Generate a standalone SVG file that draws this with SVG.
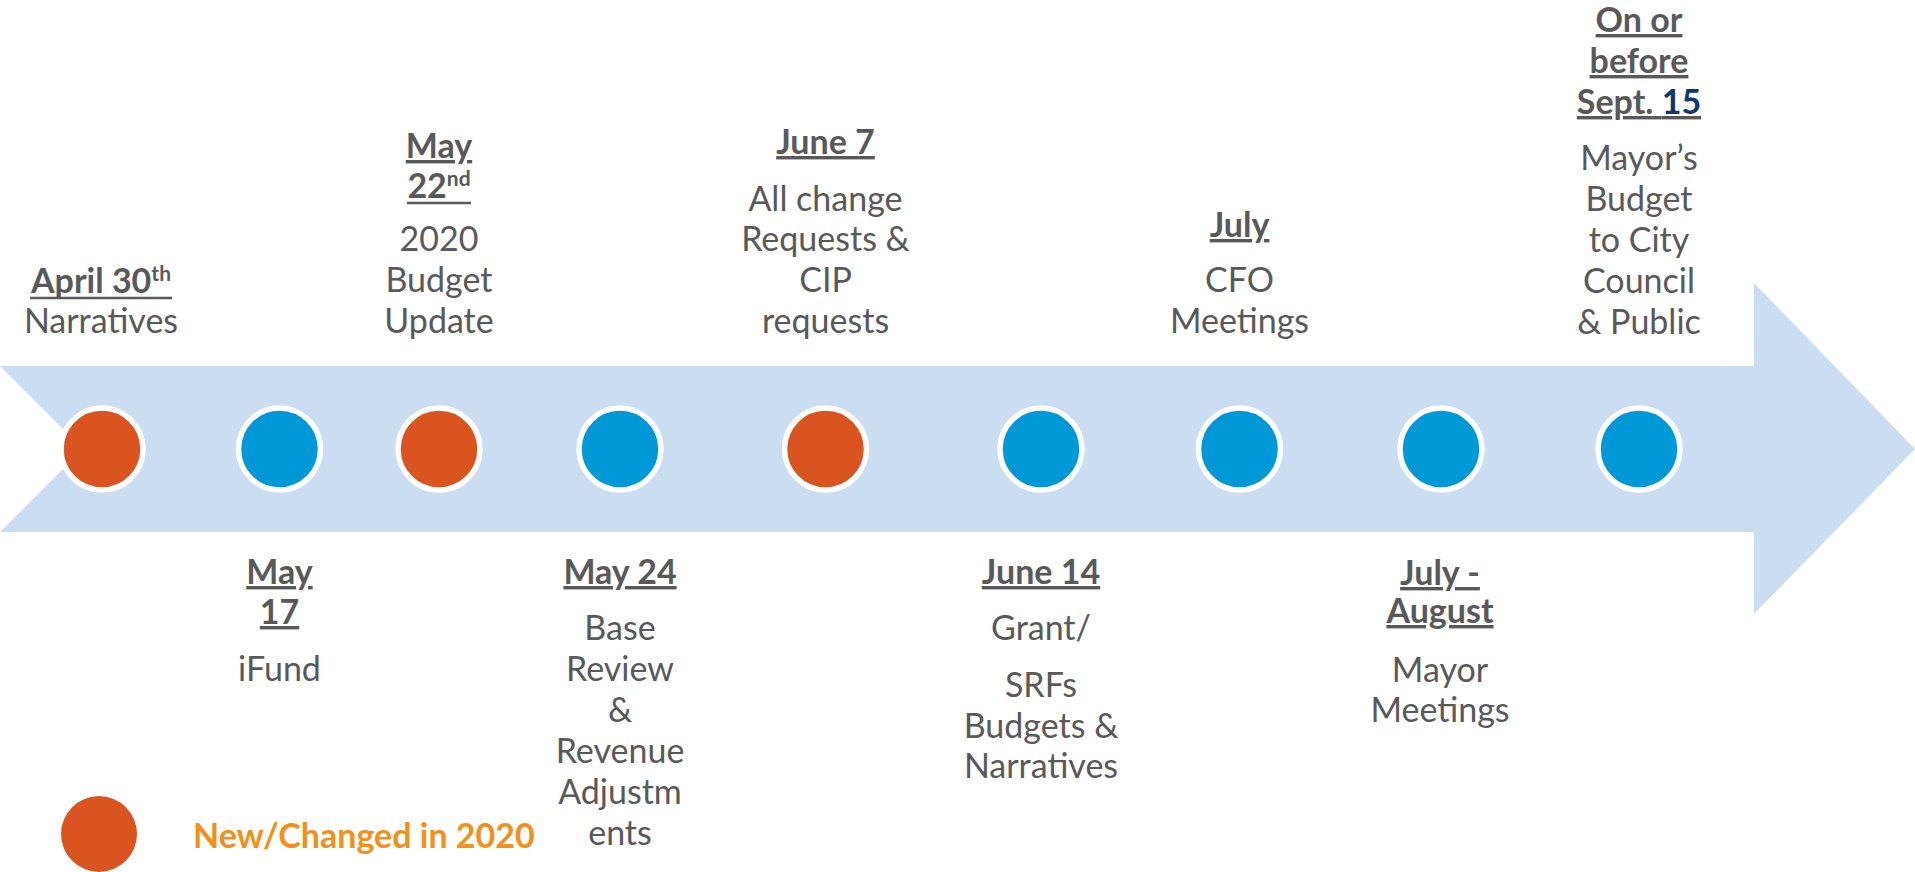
<svg xmlns="http://www.w3.org/2000/svg" width="1915" height="872" viewBox="0 0 1915 872">
<style>
.t{font-family:Lato,"Open Sans","Liberation Sans",sans-serif;font-size:34px;fill:#595959;text-anchor:middle}
.h{font-weight:bold;text-decoration:underline}
.b{font-weight:bold}
.ul{stroke:#595959;stroke-width:2.5}
.dot{stroke:#ffffff;stroke-width:5.5}
.blue{fill:#0098D6}
.orange{fill:#D9541F}
.sup{font-size:21px}
</style>
<rect width="1915" height="872" fill="#ffffff"/>
<g id="arrow">
<polygon points="0,366 1754,366 1754,283 1915,449 1754,614 1754,532 0,532 83,449" fill="#CADDF1"/>
</g>
<g id="connectors"></g>
<g id="n1"><circle class="dot orange" cx="102" cy="449" r="41"/>
<text class="t b" x="101" y="293">April 30<tspan class="sup" dy="-12">th</tspan></text>
<line class="ul" x1="30" y1="298" x2="172" y2="298"/>
<text class="t" x="101" y="333">Narratives</text></g>
<g id="n2"><circle class="dot blue" cx="279.5" cy="449" r="41"/>
<text class="t h" x="279.5" y="584">May</text>
<text class="t h" x="279.5" y="624">17</text>
<text class="t" x="279.5" y="681">iFund</text></g>
<g id="n3"><circle class="dot orange" cx="439" cy="449" r="41"/>
<text class="t h" x="439" y="158">May</text>
<text class="t b" x="439" y="198">22<tspan class="sup" dy="-12">nd</tspan></text>
<line class="ul" x1="407" y1="203" x2="471" y2="203"/>
<text class="t" x="439" y="251">2020</text>
<text class="t" x="439" y="292">Budget</text>
<text class="t" x="439" y="333">Update</text></g>
<g id="n4"><circle class="dot blue" cx="620" cy="449" r="41"/>
<text class="t h" x="620" y="584">May 24</text>
<text class="t" x="620" y="640">Base</text>
<text class="t" x="620" y="681">Review</text>
<text class="t" x="620" y="722">&amp;</text>
<text class="t" x="620" y="763">Revenue</text>
<text class="t" x="620" y="804">Adjustm</text>
<text class="t" x="620" y="845">ents</text></g>
<g id="n5"><circle class="dot orange" cx="825.5" cy="449" r="41"/>
<text class="t h" x="825.5" y="154">June 7</text>
<text class="t" x="825.5" y="211">All change</text>
<text class="t" x="825.5" y="251">Requests &amp;</text>
<text class="t" x="825.5" y="292">CIP</text>
<text class="t" x="825.5" y="333">requests</text></g>
<g id="n6"><circle class="dot blue" cx="1041" cy="449" r="41"/>
<text class="t h" x="1041" y="584">June 14</text>
<text class="t" x="1041" y="640">Grant/</text>
<text class="t" x="1041" y="697">SRFs</text>
<text class="t" x="1041" y="738">Budgets &amp;</text>
<text class="t" x="1041" y="778">Narratives</text></g>
<g id="n7"><circle class="dot blue" cx="1239.5" cy="449" r="41"/>
<text class="t h" x="1239.5" y="237">July</text>
<text class="t" x="1239.5" y="292">CFO</text>
<text class="t" x="1239.5" y="333">Meetings</text></g>
<g id="n8"><circle class="dot blue" cx="1441" cy="449" r="41"/>
<text class="t h" x="1440" y="585">July -</text>
<text class="t h" x="1440" y="623">August</text>
<text class="t" x="1440" y="682">Mayor</text>
<text class="t" x="1440" y="722">Meetings</text></g>
<g id="n9"><circle class="dot blue" cx="1639" cy="449" r="41"/>
<text class="t h" x="1639" y="32">On or</text>
<text class="t h" x="1639" y="73">before</text>
<text class="t h" x="1639" y="114">Sept. <tspan fill="#0F3868">15</tspan></text>
<text class="t" x="1639" y="170">Mayor’s</text>
<text class="t" x="1639" y="211">Budget</text>
<text class="t" x="1639" y="252">to City</text>
<text class="t" x="1639" y="293">Council</text>
<text class="t" x="1639" y="334">&amp; Public</text></g>
<g id="legend"><circle class="orange" cx="99" cy="834" r="38"/>
<text x="193" y="848" style="font-family:Lato,'Open Sans','Liberation Sans',sans-serif;font-size:34px;font-weight:bold;fill:#F39019">New/Changed in 2020</text></g>
</svg>
